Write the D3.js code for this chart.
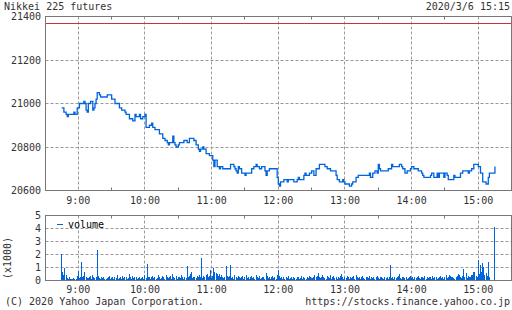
<!DOCTYPE html>
<html><head><meta charset="utf-8">
<script src="https://cdn.jsdelivr.net/npm/d3@7"></script>
<style>
body{margin:0;background:#fff}
svg{display:block}
text{font-family:"DejaVu Sans Mono",monospace;font-size:10px;fill:#333}
</style>
</head><body>
<svg id="c" width="512" height="310"></svg>
<script>
const title = "Nikkei 225 futures";
const dateLabel = "2020/3/6 15:15";
const copyright = "(C) 2020 Yahoo Japan Corporation.";
const sourceUrl = "https://stocks.finance.yahoo.co.jp";
const volumeLabel = "volume";
const volUnitLabel = "(x1000)";
const refPrice = 21370;
const priceTicks = [20600, 20800, 21000, 21200, 21400];
const volTicks = [0, 1, 2, 3, 4, 5];
const hourLabels = ["9:00","10:00","11:00","12:00","13:00","14:00","15:00"];
const halfHours = ["9:30","10:30","11:30","12:30","13:30","14:30"];

// price step change points (time, price)
const priceTimes = [
"8:45","8:47","8:49","8:50","8:51","8:56","8:57","8:59","9:01","9:05","9:06","9:07","9:08","9:09","9:11","9:13","9:14","9:15","9:16","9:17","9:19","9:20","9:26","9:30","9:33","9:37","9:39","9:42","9:43","9:46","9:49","9:51","9:52","9:55","9:56","9:58",
"10:00","10:01","10:04","10:06","10:07","10:09","10:13","10:16","10:18","10:20","10:21","10:22","10:25","10:26","10:27","10:28","10:30","10:31","10:35","10:38","10:40","10:44","10:46","10:48","10:49","10:50","10:52","10:53","10:55","10:58",
"11:01","11:02","11:03","11:05","11:07","11:08","11:10","11:17","11:20","11:21","11:22","11:23","11:24","11:25","11:27","11:30","11:31","11:36","11:38","11:40","11:41","11:43","11:45","11:48","11:49","11:50","11:52","11:59",
"12:00","12:01","12:02","12:05","12:08","12:09","12:14","12:17","12:18","12:19","12:23","12:24","12:25","12:28","12:30","12:32","12:34","12:37","12:42","12:44","12:47","12:52","12:53","12:55","12:58","12:59",
"13:00","13:04","13:06","13:07","13:10","13:12","13:22","13:23","13:25","13:27","13:29","13:30","13:31","13:32","13:39","13:42","13:43","13:49","13:51","13:52","13:54","13:56","13:59",
"14:00","14:02","14:06","14:09","14:10","14:11","14:17","14:18","14:20","14:23","14:24","14:25","14:29","14:30","14:32","14:33","14:38","14:39","14:44","14:46","14:51","14:52","14:54","14:56",
"15:00","15:02","15:04","15:07","15:09","15:10","15:15"];
const prices = [
20980,20960,20950,20940,20950,20960,20950,20980,21000,21010,21000,20970,20960,21000,21010,20970,20980,21000,21020,21050,21040,21030,21040,21020,21000,20980,20970,20960,20950,20930,20920,20950,20940,20950,20930,20940,
20950,20890,20900,20910,20890,20880,20860,20840,20830,20820,20810,20820,20850,20820,20810,20800,20810,20820,20830,20820,20840,20830,20810,20790,20780,20790,20800,20790,20770,20760,
20740,20710,20740,20710,20700,20710,20700,20720,20710,20700,20690,20680,20710,20700,20680,20670,20680,20700,20710,20720,20710,20700,20710,20690,20670,20690,20700,20660,
20630,20620,20640,20650,20640,20650,20640,20650,20660,20650,20670,20680,20670,20680,20690,20670,20700,20720,20710,20700,20690,20670,20650,20640,20650,20640,
20630,20620,20630,20640,20660,20670,20680,20660,20680,20690,20680,20720,20700,20690,20700,20720,20710,20720,20710,20700,20680,20690,20700,
20710,20700,20690,20680,20670,20660,20670,20680,20660,20680,20660,20680,20660,20680,20670,20650,20670,20660,20680,20690,20680,20690,20700,20720,
20710,20680,20640,20630,20660,20680,20710];

// per-minute volume from 8:45 to 15:15
const volStart = "8:45";
const volumes = [
2000,640,350,950,400,150,100,200,80,60,
100,120,60,80,300,700,150,200,1400,250,
300,600,200,180,150,250,300,100,350,200,
150,250,2330,300,150,100,200,150,250,100,
100,150,200,300,100,150,200,100,250,150,
400,100,150,200,100,300,150,250,200,100,
150,450,200,100,300,150,200,250,100,150,
250,100,150,200,100,350,150,1230,200,250,
100,200,300,150,250,100,150,350,200,100,
150,300,200,100,400,250,150,200,300,100,
500,200,150,300,100,250,200,150,350,200,
100,250,150,1100,200,300,450,600,150,250,
200,150,300,250,400,200,1700,150,300,250,
350,500,200,300,770,150,300,950,600,550,
500,300,450,200,350,250,150,200,1080,300,
200,300,1150,150,250,100,400,200,150,300,
250,150,200,300,100,200,350,150,250,100,
200,300,150,250,100,400,200,150,300,100,
150,200,250,100,550,300,150,200,100,250,
300,150,200,100,400,740,300,150,200,100,
250,100,200,150,300,100,150,200,100,250,
150,100,200,250,100,150,300,100,200,150,
100,250,150,300,200,100,150,250,350,200,
300,540,200,150,250,360,200,150,100,300,
200,150,350,100,250,300,150,200,100,250,
150,300,460,200,100,250,150,300,200,100,
250,150,200,300,100,350,200,150,250,100,
200,300,150,100,250,200,150,300,100,200,
150,250,100,200,300,150,100,250,200,150,
100,200,150,250,100,200,1150,150,200,100,
250,150,200,300,460,150,100,200,250,150,
200,100,150,250,300,150,200,100,250,150,
200,300,150,100,250,200,150,300,100,200,
150,250,200,100,300,150,200,250,100,150,
200,300,150,250,100,200,350,150,200,400,
300,200,250,150,100,200,300,450,350,200,
150,300,850,200,540,150,300,250,200,350,
400,600,600,300,250,1540,500,1180,600,1310,
1000,400,550,300,1380,200,0,0,0,0,
4080];

const toMin = s => { const [h,m] = s.split(":").map(Number); return h*60+m; };
const blue = "#0064dc";
const svg = d3.select("#c");

const x = d3.scaleLinear().domain([toMin("8:30"), toMin("15:30")]).range([45, 511.6]);
const y = d3.scaleLinear().domain([20600, 21400]).range([190.5, 16.5]);
const yv = d3.scaleLinear().domain([0, 5]).range([280.5, 215.5]);
const crisp = v => Math.round(v - 0.5) + 0.5;

// titles
svg.append("text").attr("x", 4).attr("y", 10).text(title);
svg.append("text").attr("x", 510).attr("y", 10).attr("text-anchor", "end").text(dateLabel);

function panel(top, bottom, yScale, yGrid) {
  const g = svg.append("g");
  yGrid.forEach(v => {
    const yy = crisp(yScale(v));
    g.append("line").attr("x1", 45.5).attr("x2", 511.5).attr("y1", yy).attr("y2", yy)
      .attr("stroke", "#999").attr("stroke-dasharray", "3,2");
  });
  hourLabels.forEach(h => {
    const xx = crisp(x(toMin(h)));
    g.append("line").attr("x1", xx).attr("x2", xx).attr("y1", top).attr("y2", bottom)
      .attr("stroke", "#999").attr("stroke-dasharray", "3,2");
  });
  halfHours.forEach(h => {
    const xx = crisp(x(toMin(h)));
    g.append("line").attr("x1", xx).attr("x2", xx).attr("y1", top).attr("y2", top + 3).attr("stroke", "#777");
    g.append("line").attr("x1", xx).attr("x2", xx).attr("y1", bottom).attr("y2", bottom - 3).attr("stroke", "#777");
  });
  return g;
}

// price panel
panel(16.5, 190.5, y, [20800, 21000, 21200]);
svg.append("line").attr("x1", 45.5).attr("x2", 511.5)
  .attr("y1", crisp(y(refPrice))).attr("y2", crisp(y(refPrice)))
  .attr("stroke", "#d03030").attr("stroke-width", 1);
const pdata = priceTimes.map((t, i) => [toMin(t), prices[i]]);
svg.append("path").datum(pdata)
  .attr("d", d3.line().x(d => x(d[0])).y(d => y(d[1])).curve(d3.curveStepAfter))
  .attr("fill", "none").attr("stroke", blue).attr("stroke-width", 1.3);
svg.append("rect").attr("x", 45.5).attr("y", 16.5).attr("width", 466).attr("height", 174)
  .attr("fill", "none").attr("stroke", "#777");
priceTicks.forEach(v => {
  svg.append("text").attr("x", 41).attr("y", y(v) + 3.5).attr("text-anchor", "end").text(v);
});
hourLabels.forEach(h => {
  svg.append("text").attr("x", x(toMin(h))).attr("y", 203.5).attr("text-anchor", "middle").text(h);
});

// volume panel
panel(215.5, 280.5, yv, [1, 2, 3, 4]);
const v0 = toMin(volStart);
svg.append("g").attr("shape-rendering", "crispEdges").selectAll("rect").data(volumes).join("rect")
  .attr("x", (d, i) => Math.floor(x(v0 + i)))
  .attr("width", 1)
  .attr("y", d => Math.round(yv(d / 1000) - 0.5))
  .attr("height", d => Math.max(0, 280 - Math.round(yv(d / 1000) - 0.5)))
  .attr("fill", blue);
svg.append("rect").attr("x", 45.5).attr("y", 215.5).attr("width", 466).attr("height", 65)
  .attr("fill", "none").attr("stroke", "#777");
volTicks.forEach(v => {
  svg.append("text").attr("x", 41).attr("y", yv(v) + 3.5).attr("text-anchor", "end").text(v);
});
hourLabels.forEach(h => {
  svg.append("text").attr("x", x(toMin(h))).attr("y", 293).attr("text-anchor", "middle").text(h);
});
svg.append("text").attr("transform", "translate(10.5,258) rotate(-90)").attr("text-anchor", "middle").text(volUnitLabel);
// legend
svg.append("line").attr("x1", 57).attr("x2", 63).attr("y1", 224.5).attr("y2", 224.5).attr("stroke", blue);
svg.append("text").attr("x", 68).attr("y", 228).style("fill", "#000").text(volumeLabel);

// footer
svg.append("text").attr("x", 5).attr("y", 304.5).text(copyright);
svg.append("text").attr("x", 510).attr("y", 304.5).attr("text-anchor", "end").text(sourceUrl);
</script>
</body></html>
